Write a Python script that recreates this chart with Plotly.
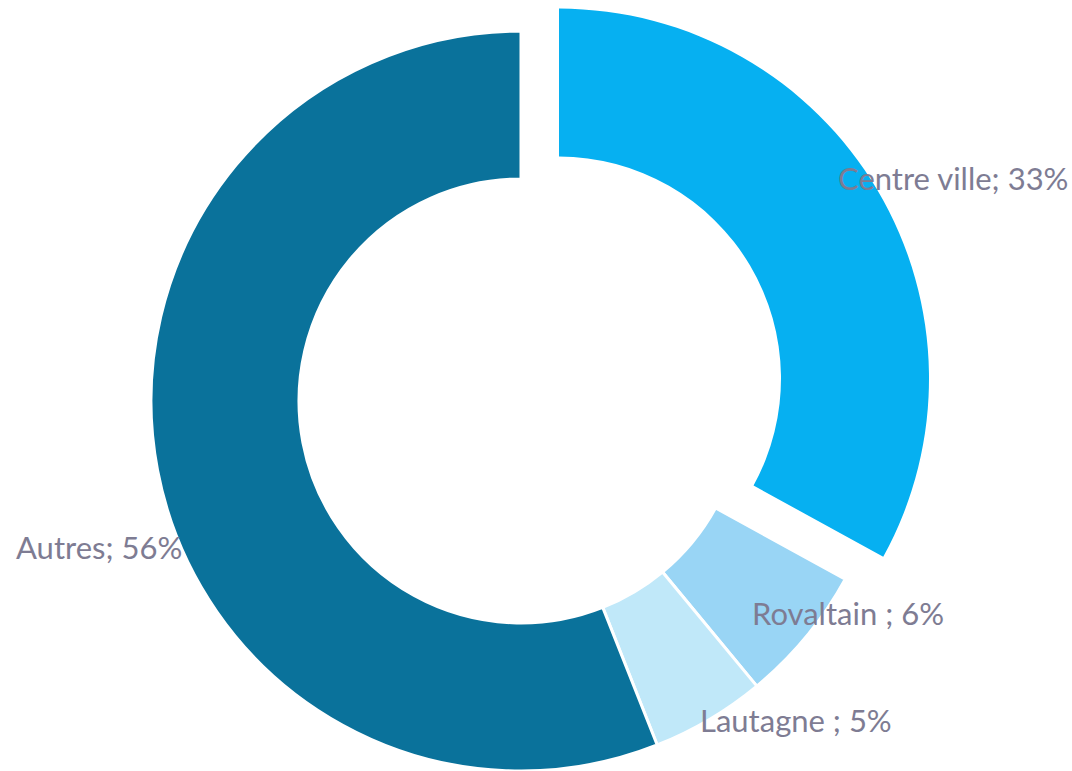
import plotly.graph_objects as go

labels = ["Centre ville", "Rovaltain ", "Lautagne ", "Autres"]
values = [33, 6, 5, 56]
colors = ["#06B0F1", "#99D5F5", "#C0E8F9", "#0A729B"]

W, H = 1072, 771
# base donut
base_x = [151 / W, 891 / W]
base_y = [0.0, 740 / H]
# exploded slice (Centre ville) shifted outward
pull_x = [189 / W, 929 / W]
pull_y = [22.4 / H, 762.4 / H]

fig = go.Figure()

base_colors = ["rgba(0,0,0,0)"] + colors[1:]
base_line = ["rgba(0,0,0,0)", "white", "white", "white"]
fig.add_trace(go.Pie(
    labels=labels, values=values, sort=False, direction="clockwise", rotation=0,
    hole=0.6, textinfo="none", hoverinfo="label+percent",
    marker=dict(colors=base_colors, line=dict(color=base_line, width=3)),
    domain=dict(x=base_x, y=base_y), showlegend=False,
))

pull_colors = [colors[0]] + ["rgba(0,0,0,0)"] * 3
fig.add_trace(go.Pie(
    labels=labels, values=values, sort=False, direction="clockwise", rotation=0,
    hole=0.6, textinfo="none", hoverinfo="skip",
    marker=dict(colors=pull_colors, line=dict(color="rgba(0,0,0,0)", width=0)),
    domain=dict(x=pull_x, y=pull_y), showlegend=False,
))

# label placement (paper coords, left edge of text, vertical center)
label_pos = [(836, 178), (750, 613), (698, 720), (14, 547)]
annotations = []
for lab, val, (px, py) in zip(labels, values, label_pos):
    annotations.append(dict(
        x=px / W, y=1 - py / H, xref="paper", yref="paper",
        xanchor="left", yanchor="middle", showarrow=False,
        text=f"{lab}; {val}%",
        font=dict(family="Lato, sans-serif", size=31, color="#7E7C93"),
    ))

fig.update_layout(
    width=W, height=H, margin=dict(l=0, r=0, t=0, b=0),
    paper_bgcolor="white", plot_bgcolor="white",
    annotations=annotations,
)

fig.write_html("out.html")
